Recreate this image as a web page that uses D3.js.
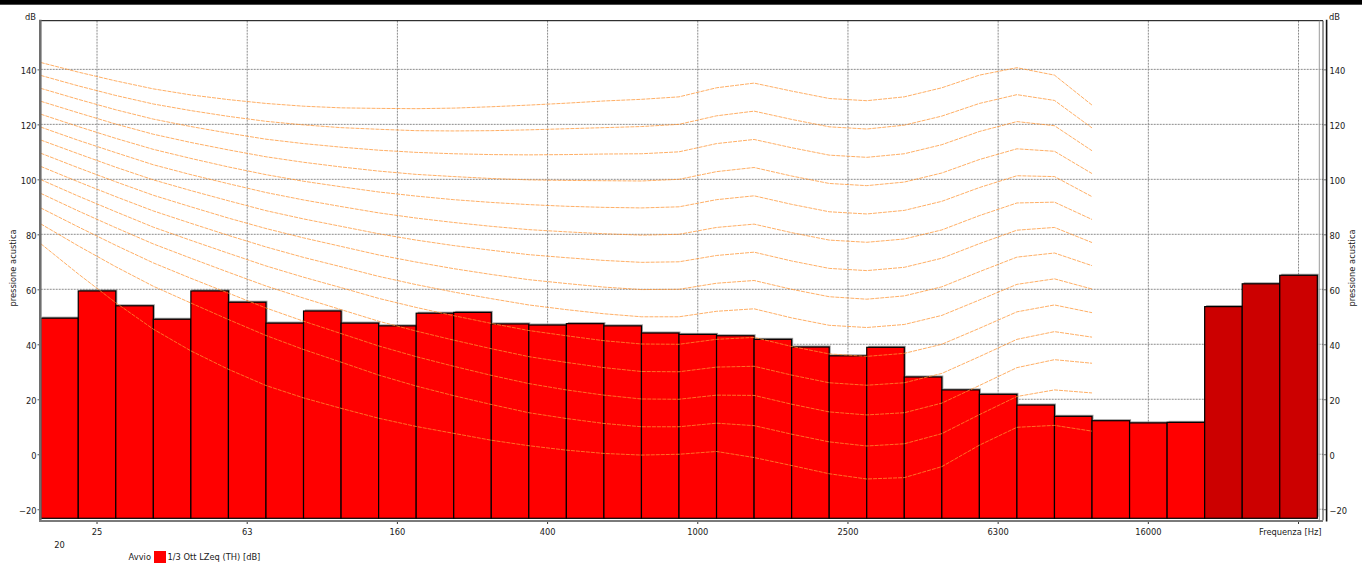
<!DOCTYPE html>
<html>
<head>
<meta charset="utf-8">
<script src="https://cdn.jsdelivr.net/npm/d3@7"></script>
<style>
body{margin:0;background:#fff}
svg{display:block}
text{font-family:"DejaVu Sans",sans-serif;font-size:8.3px;fill:#1a1a1a}
</style>
</head>
<body>
<svg id="c" width="1362" height="566"></svg>
<script>
// ---------- DATA ----------
const bands = ["20","25","31.5","40","50","63","80","100","125","160","200","250","315","400","500","630","800","1000","1250","1600","2000","2500","3150","4000","5000","6300","8000","10000","12500","16000","20000","A","C","Z"];
const totals = ["A","C","Z"];
const levels = [49.5,59.4,54.0,49.1,59.4,55.3,47.7,52.1,47.7,46.7,51.3,51.6,47.4,47.0,47.5,46.7,44.1,43.6,43.1,41.8,39.0,35.8,38.9,28.1,23.4,21.8,17.9,13.8,12.2,11.4,11.6,53.7,62.0,65.1];

const contourFreqs = ["20","25","31.5","40","50","63","80","100","125","160","200","250","315","400","500","630","800","1000","1250","1600","2000","2500","3150","4000","5000","6300","8000","10000","12500"];
const phon0   = [76.6,65.6,55.1,45.5,37.6,30.9,25.0,20.5,16.7,13.1,10.1,7.6,5.1,3.1,1.5,0.3,-0.3,0.0,1.0,-1.2,-4.1,-7.1,-9.0,-8.5,-4.5,3.3,9.8,10.5,8.4];
const phon10  = [83.8,75.8,68.2,61.1,55.0,49.0,43.2,38.1,33.5,28.8,24.8,21.3,18.1,15.1,13.0,11.2,10.0,10.0,11.3,10.4,7.3,4.5,3.0,3.8,7.5,14.4,21.0,23.4,22.3];
const phon20  = [89.6,82.7,76.0,69.6,64.0,58.6,53.2,48.4,43.9,39.4,35.5,32.0,28.7,25.7,23.4,21.5,20.1,20.0,21.5,21.4,18.2,15.4,14.3,15.1,18.6,25.0,31.5,34.4,33.1];
const phon30  = [94.9,88.5,82.4,76.5,71.3,66.2,61.2,56.8,52.6,48.4,44.8,41.5,38.4,35.5,33.4,31.5,30.1,30.0,31.7,32.0,28.8,26.0,25.1,26.0,29.4,35.5,41.8,44.6,42.6];
const phon40  = [99.9,93.9,88.2,82.6,77.8,73.1,68.5,64.4,60.6,56.7,53.4,50.4,47.6,45.0,43.1,41.3,40.1,40.0,41.8,42.5,39.2,36.5,35.6,36.7,40.0,45.8,51.8,54.3,51.5];
const phon50  = [104.7,99.1,93.7,88.5,84.0,79.6,75.4,71.6,68.2,64.7,61.7,59.0,56.6,54.3,52.6,51.1,50.0,50.0,52.0,52.9,49.6,46.9,46.1,47.2,50.5,56.1,61.8,63.8,60.1];
const phon60  = [109.5,104.2,99.1,94.2,90.0,85.9,82.1,78.7,75.6,72.5,69.9,67.5,65.4,63.5,62.1,60.8,59.9,60.0,62.2,63.2,60.0,57.3,56.4,57.6,60.9,66.4,71.7,73.2,68.6];
const phon70  = [114.3,109.3,104.4,99.8,95.9,92.2,88.6,85.6,82.9,80.2,77.9,75.9,74.2,72.6,71.5,70.5,69.8,70.0,72.3,73.5,70.3,67.6,66.8,68.0,71.3,76.6,81.5,82.5,77.0];
const phon80  = [119.0,114.2,109.7,105.3,101.7,98.4,95.2,92.5,90.1,87.8,85.9,84.3,82.9,81.7,80.9,80.2,79.7,80.0,82.5,83.7,80.6,77.9,77.1,78.3,81.6,86.8,91.4,91.7,85.4];
const phon90  = [123.7,119.2,114.9,110.9,107.6,104.5,101.7,99.3,97.3,95.4,93.9,92.6,91.6,90.8,90.2,89.8,89.6,90.0,92.6,94.0,90.9,88.2,87.4,88.7,92.0,97.0,101.3,101.0,93.7];
const phon100 = [128.4,124.2,120.1,116.4,113.4,110.7,108.2,106.2,104.5,103.0,101.8,101.0,100.3,99.8,99.6,99.5,99.4,100.0,102.8,104.3,101.2,98.5,97.7,99.0,102.3,107.2,111.1,110.2,102.1];
const phon110 = [133.1,129.1,125.3,121.9,119.2,116.8,114.6,113.0,111.7,110.6,109.8,109.3,109.0,108.9,109.0,109.2,109.3,110.0,113.0,114.5,111.5,108.8,108.0,109.3,112.6,117.4,121.0,119.5,110.4];
const phon120 = [137.8,134.0,130.5,127.4,125.0,122.9,121.1,119.8,118.8,118.2,117.7,117.6,117.7,118.0,118.4,118.8,119.2,120.0,123.1,124.8,121.8,119.1,118.3,119.7,123.0,127.6,130.8,128.7,118.7];
const phon130 = [142.5,139.0,135.8,132.9,130.7,129.0,127.6,126.6,126.0,125.8,125.7,125.9,126.4,127.0,127.7,128.5,129.1,130.0,133.3,135.0,132.1,129.4,128.6,130.0,133.3,137.9,140.6,137.9,127.0];
const contours = [phon0,phon10,phon20,phon30,phon40,phon50,phon60,phon70,phon80,phon90,phon100,phon110,phon120,phon130];

const yTicks = [-20,0,20,40,60,80,100,120,140];
const xTickBands = ["25","63","160","400","1000","2500","6300","16000","Z"];
const xTickLabels = ["25","63","160","400","1000","2500","6300","16000","Frequenza [Hz]"];
const firstBandLabel = "20";
const yTitle = "pressione acustica";
const yUnit = "dB";
const legendPrefix = "Avvio";
const legendLabel = "1/3 Ott LZeq (TH) [dB]";

// ---------- LAYOUT ----------
const W = 1362, H = 566;
const plotL = 40.7, plotR = 1323, barsR = 1317.3, plotT = 20.7, plotB = 518.3;
const yMin = -23.3, yMax = 157.7;

const svg = d3.select("#c");
svg.append("rect").attr("width", W).attr("height", H).attr("fill", "#fff");
svg.append("rect").attr("x", 0).attr("y", 0).attr("width", W).attr("height", 4.7).attr("fill", "#000");

const x = d3.scaleBand().domain(bands).range([plotL, barsR]).padding(0);
const y = d3.scaleLinear().domain([yMin, yMax]).range([plotB, plotT]);

// grid
const grid = svg.append("g");
grid.selectAll("line.h").data(yTicks).join("line")
  .attr("x1", plotL).attr("x2", plotR)
  .attr("y1", d => y(d)).attr("y2", d => y(d))
  .attr("stroke", "#8c8c8c").attr("stroke-width", 1).attr("stroke-dasharray", "2,1");
grid.selectAll("line.v").data(xTickBands).join("line")
  .attr("x1", d => x(d) + x.bandwidth() / 2).attr("x2", d => x(d) + x.bandwidth() / 2)
  .attr("y1", plotT).attr("y2", plotB)
  .attr("stroke", "#8c8c8c").attr("stroke-width", 1).attr("stroke-dasharray", "2,1");

// bars
const data = bands.map((b, i) => ({band: b, v: levels[i]}));
svg.append("g").selectAll("rect").data(data).join("rect")
  .attr("x", d => x(d.band) + 1.5).attr("y", d => y(d.v) - 1.5)
  .attr("width", x.bandwidth()).attr("height", d => y(yMin) - y(d.v))
  .attr("fill", "#7a7a7a").attr("opacity", 0.75);
svg.append("g").selectAll("rect").data(data).join("rect")
  .attr("x", d => x(d.band)).attr("y", d => y(d.v))
  .attr("width", x.bandwidth()).attr("height", d => y(yMin) - y(d.v))
  .attr("fill", d => totals.includes(d.band) ? "#cc0000" : "#ff0000")
  .attr("stroke", "#000").attr("stroke-width", 1.2);

// equal-loudness contours (points at band left edges)
const line = d3.line().x((d, i) => x(contourFreqs[i])).y(d => y(d));
svg.append("g").selectAll("path").data(contours).join("path")
  .attr("d", line).attr("fill", "none")
  .attr("stroke", "#ff9433").attr("stroke-width", 1).attr("stroke-opacity", 0.75)
  .attr("stroke-dasharray", "4,1");

// frame
svg.append("line").attr("x1", plotL).attr("x2", plotR).attr("y1", plotT).attr("y2", plotT).attr("stroke", "#000").attr("stroke-width", 1);
svg.append("line").attr("x1", plotR).attr("x2", plotR).attr("y1", plotT).attr("y2", plotB + 2).attr("stroke", "#333").attr("stroke-width", 1);
svg.append("line").attr("x1", barsR + 2).attr("x2", barsR + 2).attr("y1", plotT).attr("y2", plotB + 2).attr("stroke", "#9a9a9a").attr("stroke-width", 1);

// left axis
const gl = svg.append("g").attr("transform", "translate(40.5,0)")
  .call(d3.axisLeft(y).tickValues(yTicks).tickSizeInner(3).tickSizeOuter(0).tickPadding(1));
gl.select(".domain").remove();
gl.selectAll(".tick line").attr("stroke", "#555");
gl.selectAll(".tick text").attr("dy", "0.53em").style("font-family", "DejaVu Sans").style("font-size", "8.3px").attr("fill", "#1a1a1a");
svg.append("line").attr("x1", 40.3).attr("x2", 40.3).attr("y1", plotT - 1).attr("y2", 521.5).attr("stroke", "#6e6e6e").attr("stroke-width", 2.6);

// right axis
const gr = svg.append("g").attr("transform", "translate(1323.5,0)")
  .call(d3.axisRight(y).tickValues(yTicks).tickSizeInner(3.5).tickSizeOuter(0).tickPadding(2.5));
gr.select(".domain").remove();
gr.selectAll(".tick line").attr("stroke", "#777");
gr.selectAll(".tick text").attr("dy", "0.53em").style("font-family", "DejaVu Sans").style("font-size", "8.3px").attr("fill", "#1a1a1a");
svg.append("line").attr("x1", 1326.6).attr("x2", 1326.6).attr("y1", plotT - 1).attr("y2", 521.5).attr("stroke", "#111").attr("stroke-width", 1.6);

// bottom axis
const gb = svg.append("g").attr("transform", "translate(0,521)")
  .call(d3.axisBottom(x).tickValues(xTickBands).tickFormat((d, i) => xTickLabels[i]).tickSizeInner(3).tickSizeOuter(0).tickPadding(4.8));
gb.select(".domain").remove();
gb.selectAll(".tick line").attr("stroke", "#333");
gb.selectAll(".tick text").style("font-family", "DejaVu Sans").style("font-size", "8.3px").attr("fill", "#1a1a1a");
gb.selectAll(".tick text").filter((d, i) => i === xTickBands.length - 1).attr("text-anchor", "end").attr("x", 23);
svg.append("line").attr("x1", 39).attr("x2", plotR).attr("y1", 521).attr("y2", 521).attr("stroke", "#7a7a7a").attr("stroke-width", 2);
svg.append("text").attr("x", x(firstBandLabel) + x.bandwidth() / 2).attr("y", 547.5)
  .attr("text-anchor", "middle").text(firstBandLabel);

// units & titles
svg.append("text").attr("x", 36).attr("y", 20.3).attr("text-anchor", "end").text(yUnit);
svg.append("text").attr("x", 1329).attr("y", 20.3).attr("text-anchor", "start").text(yUnit);
svg.append("text").attr("transform", "translate(16,268) rotate(-90)").attr("text-anchor", "middle").attr("fill", "#333").text(yTitle);
svg.append("text").attr("transform", "translate(1355,268) rotate(-90)").attr("text-anchor", "middle").attr("fill", "#333").text(yTitle);

// legend
svg.append("text").attr("x", 151).attr("y", 560).attr("text-anchor", "end").text(legendPrefix);
svg.append("rect").attr("x", 154).attr("y", 551).attr("width", 12).attr("height", 12).attr("fill", "#ff0000");
svg.append("text").attr("x", 167.5).attr("y", 560).text(legendLabel);
</script>
</body>
</html>
